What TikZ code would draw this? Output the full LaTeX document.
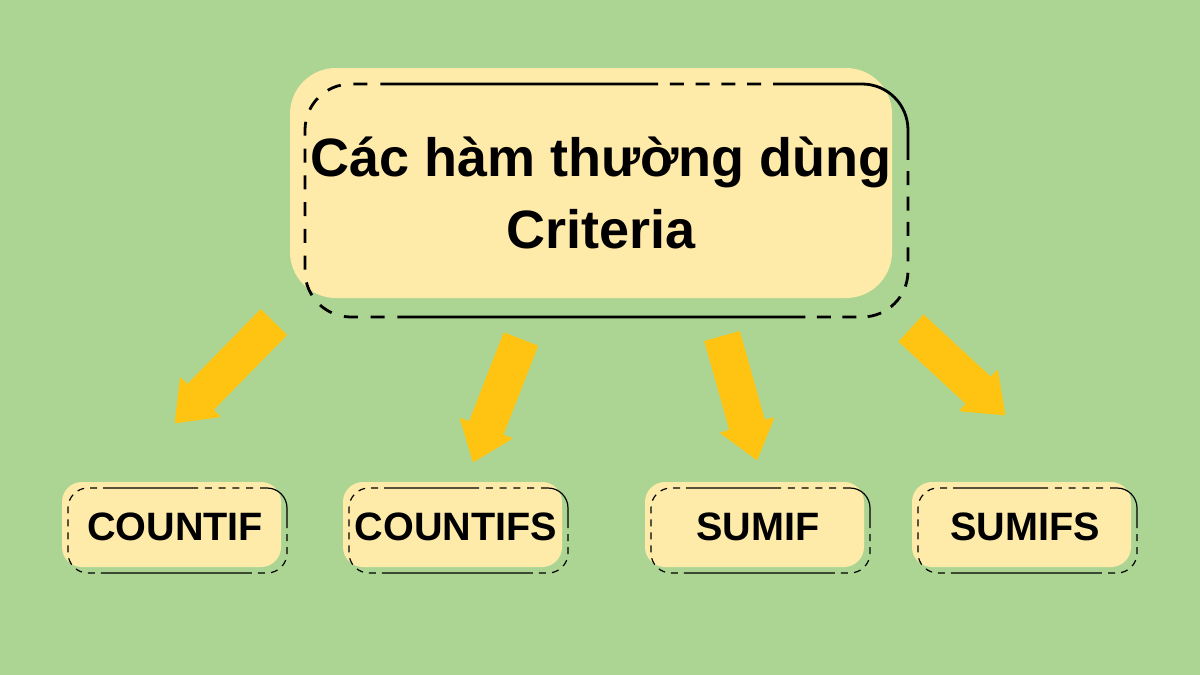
\documentclass[tikz,border=0pt]{standalone}
\usepackage{fontspec}
\setmainfont{Liberation Sans}
\usetikzlibrary{arrows.meta}

\definecolor{bggreen}{RGB}{172,213,147}
\definecolor{boxfill}{RGB}{255,235,169}
\definecolor{arrowyellow}{RGB}{255,196,18}

\tikzset{
    bigarrow/.style={draw=arrowyellow, line width=37pt,
        -{Triangle[width=57pt,length=37pt,round,line width=1.5pt]}},
    bigoutline/.style={draw=black, line width=2.8pt, rounded corners=46pt,
        dash pattern={on 277pt off 11.8pt on 14pt off 11.8pt on 14pt off 11.8pt
            on 14pt off 11.8pt on 14pt off 11.8pt
            on 191pt off 11.4pt
            on 14pt off 11.4pt on 14pt off 11.4pt on 14pt off 11.4pt
            on 14pt off 11.4pt on 14pt off 11.4pt on 14pt off 11.4pt
            on 14pt off 11.4pt on 14pt off 11.4pt on 14pt off 11.4pt
            on 408pt off 12.8pt
            on 14pt off 12.8pt on 14pt off 12.8pt on 14pt off 12.8pt
            on 14pt off 12.8pt on 14pt off 12.8pt on 14pt off 12.8pt
            on 14pt off 12.8pt on 14pt off 12.8pt on 14pt off 12.8pt
            on 14pt off 12.8pt on 14pt off 12.8pt on 14pt off 12.8pt
            on 14pt off 12.8pt}},
    smalloutline/.style={draw=black, line width=1.2pt, rounded corners=20pt,
        dash pattern={on 95pt off 6.8pt
            on 7pt off 6.8pt on 7pt off 6.8pt on 7pt off 6.8pt on 7pt off 6.8pt
            on 58.4pt off 6.07pt
            on 7pt off 6.07pt on 7pt off 6.07pt on 7pt off 6.07pt
            on 7pt off 6.07pt on 7pt off 6.07pt
            on 151pt off 5.98pt
            on 7pt off 5.98pt on 7pt off 5.98pt on 7pt off 5.98pt
            on 7pt off 5.98pt on 7pt off 5.98pt on 7pt off 5.98pt
            on 7pt off 5.98pt on 7pt off 5.98pt on 7pt off 5.98pt
            on 7pt off 5.98pt}},
    titletext/.style={inner sep=0pt, align=center, anchor=south,
        font=\bfseries\fontsize{54}{72}\selectfont},
    functext/.style={inner sep=0pt, anchor=base,
        font=\bfseries\fontsize{39.6}{48}\selectfont}
}

\begin{document}
\begin{tikzpicture}[x=1pt, y=-1pt]
    % Background
    \fill[bggreen] (0,0) rectangle (1200,675);

    % Main box
    \fill[boxfill, rounded corners=46pt] (290,68) rectangle (892,298);
    \draw[bigoutline] (381,84) -- (908,84) -- (908,317) -- (305,317) -- (305,84) -- (381,84);
    \node[titletext] (criteria) at (601,249) {Các hàm thường dùng\\Criteria};

    % Function boxes
    \foreach \x/\n/\t in {62/countif/COUNTIF, 343/countifs/COUNTIFS,
                          645/sumif/SUMIF, 912/sumifs/SUMIFS} {
        \fill[boxfill, rounded corners=20pt] (\x,482) rectangle (\x+219,567);
        \draw[smalloutline] (\x+41,488) -- (\x+225,488) -- (\x+225,573) -- (\x+6,573) -- (\x+6,488) -- (\x+41,488);
        \node[functext] (\n) at (\x+113,540.5) {\t};
    }

    % Arrows
    \foreach \i/\sx/\sy/\ex/\ey in {1/274/322/175/423, 2/521/339/473/462,
                                    3/722/336/757/460, 4/911/328/1005/415} {
        \coordinate (tail\i) at (\sx,\sy);
        \coordinate (tip\i) at (\ex,\ey);
        \draw[bigarrow] (tail\i) -- (tip\i);
    }
\end{tikzpicture}
\end{document}
